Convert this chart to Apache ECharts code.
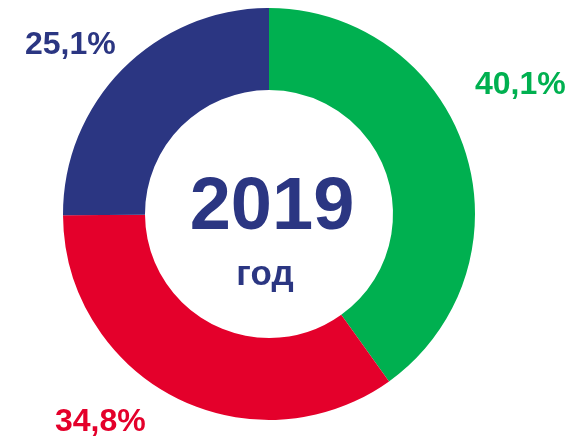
<!DOCTYPE html>
<html><head><meta charset="utf-8">
<script src="https://cdn.jsdelivr.net/npm/echarts@6/dist/echarts.min.js"></script>
<style>html,body{margin:0;padding:0;background:#fff}#c{width:569px;height:438px}</style>
</head><body><div id="c"></div>
<script>
const categories = ['A', 'B', 'C'];
const values = [40.1, 34.8, 25.1];
const labels = ['40,1%', '34,8%', '25,1%'];
const colors = ['#00B050', '#E4002B', '#2B3682'];
const yearText = '2019';
const yearSub = 'год';
const labelPos = [[475, 85, 'left'], [55, 422, 'left'], [25, 45, 'left']];

const chart = echarts.init(document.getElementById('c'), null, {renderer: 'canvas'});
chart.setOption({
  animation: false,
  series: [{
    type: 'pie',
    center: [269, 214],
    radius: [124, 206],
    startAngle: 90,
    clockwise: true,
    silent: true,
    data: categories.map((c, i) => ({name: c, value: values[i], itemStyle: {color: colors[i]},
      label: {color: colors[i]}})),
    itemStyle: {borderWidth: 0},
    label: {
      show: true,
      position: 'outside',
      overflow: 'none',
      width: 200,
      formatter: p => labels[p.dataIndex],
      fontFamily: 'Liberation Sans, Arial, sans-serif',
      fontWeight: 'bold',
      fontSize: 32
    },
    labelLine: {show: false},
    labelLayout: p => ({x: labelPos[p.dataIndex][0], y: labelPos[p.dataIndex][1], align: labelPos[p.dataIndex][2], verticalAlign: 'middle'})
  }],
  graphic: [
    {type: 'text', x: 272, y: 209, style: {text: yearText, fill: '#2B3682', font: 'bold 74px "Liberation Sans", Arial, sans-serif', textAlign: 'center', textVerticalAlign: 'middle'}},
    {type: 'text', x: 265, y: 275, style: {text: yearSub, fill: '#2B3682', font: 'bold 35px "Liberation Sans", Arial, sans-serif', textAlign: 'center', textVerticalAlign: 'middle'}}
  ]
});
</script></body></html>
